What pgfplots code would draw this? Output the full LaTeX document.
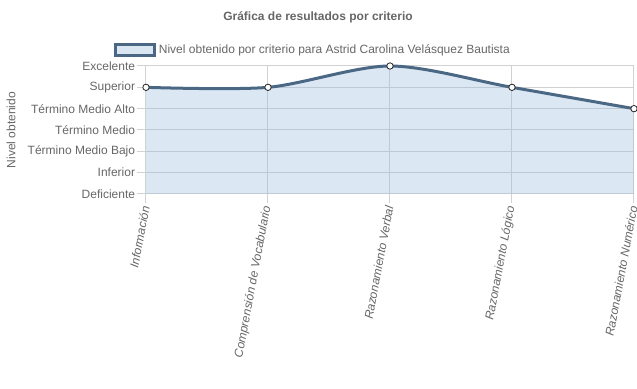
\documentclass[border=0pt]{standalone}
\usepackage{pgfplots}
\pgfplotsset{compat=1.18}
\usepackage{fontspec}
\setmainfont{Liberation Sans}
\definecolor{txt}{HTML}{666666}
\definecolor{linec}{HTML}{4A6884}
\definecolor{fillc}{HTML}{DAE7F3}
\definecolor{fillb}{RGB}{151,187,221}
\definecolor{gridc}{HTML}{D2D2D2}
\begin{document}
\begin{tikzpicture}[x=1pt,y=1pt]
\useasboundingbox (0,0) rectangle (477.75,291.75);
\node[font=\bfseries\fontsize{9}{11}\selectfont, text=txt] at (238.5,279) {Gráfica de resultados por criterio};
\begin{axis}[
  at={(109.5pt,146.25pt)}, anchor=south west,
  scale only axis, width=366pt, height=96pt,
  xmin=0, xmax=4, ymin=0, ymax=6,
  xtick={0,1,2,3,4}, ytick={0,1,2,3,4,5,6},
  xticklabels={Información, Comprensión de Vocabulario, Razonamiento Verbal, Razonamiento Lógico, Razonamiento Numérico},
  yticklabels={Deficiente, Inferior, Término Medio Bajo, Término Medio, Término Medio Alto, Superior, Excelente},
  x tick label style={rotate=79.4, anchor=east, font=\itshape\fontsize{9}{11}\selectfont, text=txt, inner sep=1pt, xshift=-1pt},
  y tick label style={font=\fontsize{9}{11}\selectfont, text=txt, inner sep=1pt},
  ylabel={Nivel obtenido},
  ylabel style={font=\fontsize{9}{11}\selectfont, text=txt, at={(axis description cs:-0.2766,0.5)}, anchor=center},
  grid=major, major grid style={gridc, line width=0.75pt},
  axis line style={gridc, line width=0.75pt},
  tick style={gridc, line width=0.75pt},
  tick align=outside, major tick length=7pt, tickpos=left,
  clip=false,
  legend style={draw=none, fill=none, at={(axis description cs:-0.0656,1.125)}, anchor=west,
    font=\fontsize{9}{11}\selectfont, text=txt, inner sep=0pt},
  legend cell align=left,
]
\addlegendimage{legend image code/.code={\draw[fill=fillc, draw=linec, line width=2.25pt] (0pt,-4.1pt) rectangle (29.25pt,4.1pt);}}
\addlegendentry{Nivel obtenido por criterio para Astrid Carolina Velásquez Bautista}
\addplot[draw=none, fill=fillb, fill opacity=0.35, smooth, forget plot] coordinates {(0,5) (1,5) (2,6) (3,5) (4,4)} \closedcycle;
\addplot[linec, line width=2.25pt, smooth, forget plot, mark=*, mark size=2.4pt,
  mark options={fill=white, draw=black!85, line width=0.6pt, solid}] coordinates {(0,5) (1,5) (2,6) (3,5) (4,4)};
\end{axis}
\end{tikzpicture}
\end{document}
